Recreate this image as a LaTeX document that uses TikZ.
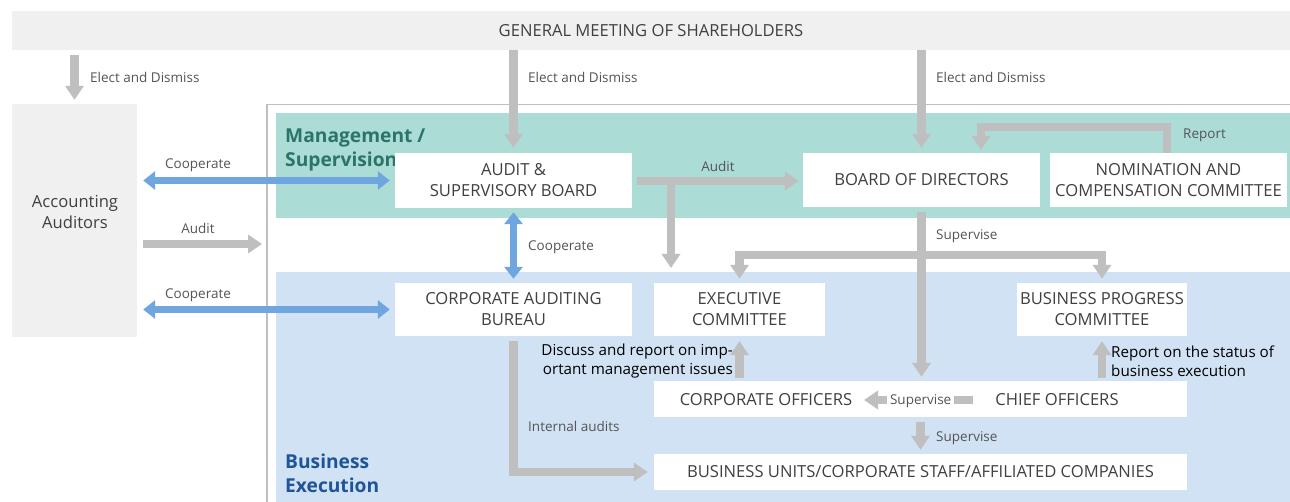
\documentclass[tikz,border=0pt]{standalone}
\usepackage{fontspec}
\setmainfont{Open Sans}
\usetikzlibrary{arrows.meta}
\definecolor{barbg}{HTML}{F0F0F0}
\definecolor{teal}{HTML}{ACDCD6}
\definecolor{lblue}{HTML}{D0E2F3}
\definecolor{agray}{HTML}{BFBFBF}
\definecolor{ablue}{HTML}{6FA6E0}
\definecolor{txt}{HTML}{404040}
\definecolor{ltxt}{HTML}{555555}
\definecolor{mgmt}{HTML}{2B7468}
\definecolor{bexe}{HTML}{1F5596}
\newcommand\myboxfont{\fontsize{16.6}{21}\selectfont}
\newcommand\mylblfont{\fontsize{13.5}{15}\selectfont}
\newcommand\mynotefont{\fontsize{15.2}{19}\selectfont}
\newcommand\myhdfont{\fontsize{19.2}{24.5}\selectfont\bfseries}
\begin{document}
\begin{tikzpicture}[x=1pt,y=-1pt,
  box/.style={fill=white, draw=none, align=center, text=txt, font=\myboxfont, inner sep=0pt},
  gar/.style={draw=agray, line width=8.5pt, -{Triangle[width=18pt,length=14pt]}, line join=miter},
  bar/.style={draw=ablue, line width=7.5pt, {Triangle[width=18pt,length=12pt]}-{Triangle[width=18pt,length=12pt]}},
  lbl/.style={text=ltxt, font=\mylblfont, inner sep=0pt},
  note/.style={text=black, font=\mynotefont, inner sep=0pt, align=left},
  hd/.style={font=\myhdfont, inner sep=0pt, align=left, anchor=north west}]
\useasboundingbox (0,0) rectangle (1290,502);
\fill[white] (0,0) rectangle (1290,502);
% backgrounds
\fill[teal] (276,113) rectangle (1290,218);
\fill[lblue] (276,272) rectangle (1290,502);
\draw[agray, line width=1.5pt] (1290,104.5) -- (267,104.5) -- (267,503);
\node[hd, text=mgmt] (hm) at (285,128.5) {Management /\\Supervision};
\node[hd, text=bexe] (he) at (285,453.5) {Business\\Execution};
% nodes
\node[box, fill=barbg, minimum width=1278pt, minimum height=39pt] (gm) at (651,30.5) {\raisebox{-2pt}{GENERAL MEETING OF SHAREHOLDERS}};
\node[box, fill=barbg, minimum width=125pt, minimum height=233pt] (aa) at (74.5,220.5) {};
\node[box, fill=none] (aat) at (75,211.5) {Accounting\\Auditors};
\node[box, minimum width=237pt, minimum height=55pt] (asb) at (513.5,180.5) {AUDIT \&\\SUPERVISORY BOARD};
\node[box, minimum width=237pt, minimum height=54pt] (bod) at (921.5,180) {\raisebox{-1pt}{BOARD OF DIRECTORS}};
\node[box, minimum width=237pt, minimum height=54pt] (ncc) at (1168.5,180) {NOMINATION AND\\COMPENSATION COMMITTEE};
\node[box, minimum width=237pt, minimum height=53pt] (cab) at (513.5,309.5) {CORPORATE AUDITING\\BUREAU};
\node[box, minimum width=171pt, minimum height=53pt] (exc) at (739.5,309.5) {EXECUTIVE\\COMMITTEE};
\node[box, minimum width=170pt, minimum height=53pt] (bpc) at (1102,309.5) {BUSINESS PROGRESS\\COMMITTEE};
\node[box, minimum width=533pt, minimum height=36pt] (off) at (920.5,399) {};
\node[box, fill=none] (co) at (766,400) {CORPORATE OFFICERS};
\node[box, fill=none] (ch) at (1057,400) {CHIEF OFFICERS};
\node[box, minimum width=533pt, minimum height=36pt] (bu) at (920.5,472) {\raisebox{-1pt}{BUSINESS UNITS/CORPORATE STAFF/AFFILIATED COMPANIES}};
% elect and dismiss
\draw[gar, shorten <=5pt, shorten >=4pt] (aa.north |- gm.south) -- (aa.north);
\node[lbl, anchor=west] at (90,77.5) {Elect and Dismiss};
\draw[gar, shorten >=5pt] (asb.north |- gm.south) -- (asb.north);
\node[lbl, anchor=west] at (528,77.5) {Elect and Dismiss};
\draw[gar, shorten >=5pt] (bod.north |- gm.south) -- (bod.north);
\node[lbl, anchor=west] at (936,77.5) {Elect and Dismiss};
% accounting auditors
\draw[bar, shorten <=6pt, shorten >=5pt] (aa.east |- asb.west) -- (asb.west);
\node[lbl] at (198,165.5) {Cooperate};
\coordinate (fr) at (262,244);
\draw[gar, shorten <=6pt] (aa.east |- fr) -- (fr);
\node[lbl] at (198,228.5) {Audit};
\draw[bar, shorten <=6pt, shorten >=5pt] (aa.east |- cab.west) -- (cab.west);
\node[lbl] at (198,295.5) {Cooperate};
% asb <-> cab
\draw[bar, shorten <=4pt, shorten >=4pt] (asb.south) -- (cab.north);
\node[lbl, anchor=west] at (528,247.5) {Cooperate};
% audit
\draw[gar, shorten <=5pt, shorten >=4pt] (asb.east |- 0,181) -- (bod.west |- 0,181);
\node[lbl] at (718,166.5) {Audit};
\coordinate (ad) at (671,268);
\draw[gar] (ad |- 0,181) -- (ad);
% report
\draw[gar, shorten >=3pt] ([xshift=-1.5pt]ncc.north) |- (981,127) -- (bod.north -| 981,0);
\node[lbl, anchor=west] at (1183,135.5) {Report};
% supervise from bod
\draw[gar, shorten <=5pt, shorten >=4pt] (bod.south) -- (bod.south |- off.north);
\node[lbl, anchor=west] at (936,236.5) {Supervise};
\coordinate (sv) at (921.5,255);
\draw[gar, shorten >=4pt] (sv) -| (exc.north);
\draw[gar, shorten >=4pt] (sv) -| (bpc.north);
% reports up
\draw[gar, shorten <=3pt, shorten >=5pt] (exc.south |- off.north) -- (exc.south);
\node[note, anchor=east, align=right] at (733,361) {Discuss and report on imp-\\ortant management issues};
\draw[gar, shorten <=3pt, shorten >=5pt] (bpc.south |- off.north) -- (bpc.south);
\node[note, anchor=west] at (1111,361) {Report on the status of\\business execution};
% within officers
\coordinate (chs) at (973,400);
\coordinate (coe) at (864,400);
\draw[gar] (chs) -- node[lbl, fill=white, inner xsep=3pt, inner ysep=2pt, pos=0.48, yshift=-1.5pt] {Supervise} (coe);
% supervise down
\draw[gar, shorten <=5pt, shorten >=4pt] (off.south) -- (bu.north);
\node[lbl, anchor=west] at (936,438.5) {Supervise};
% internal audits
\draw[gar, shorten <=5pt, shorten >=6pt] (cab.south) |- (bu.west);
\node[lbl, anchor=west] at (528,426.5) {Internal audits};
\end{tikzpicture}
\end{document}
